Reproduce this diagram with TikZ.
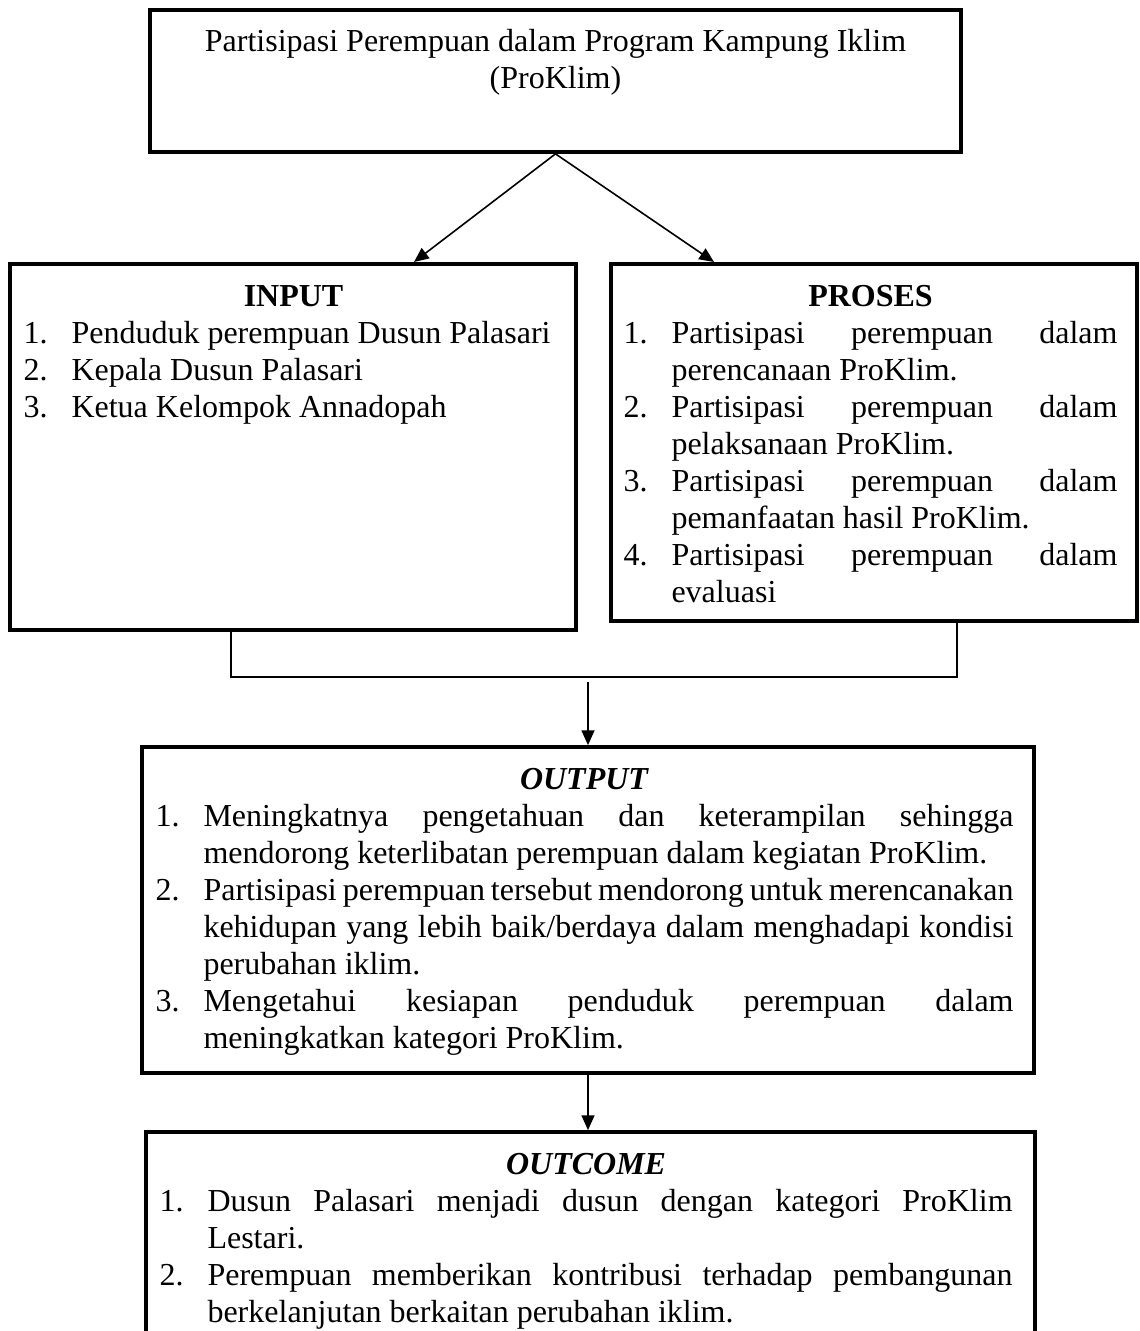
\documentclass[tikz,border=0pt]{standalone}
\usepackage{fontspec}
\setmainfont{Liberation Serif}
\usetikzlibrary{arrows.meta,fit}
\tolerance=10000 \hbadness=10000 \hyphenpenalty=10000 \exhyphenpenalty=10000
\newcommand{\nomor}[2]{\par\hangindent=18pt\hangafter=1\noindent\makebox[18pt][l]{#1}#2}
\tikzset{
  kotak/.style={draw, line width=1.4pt, inner sep=0pt},
  isi/.style={inner sep=0pt, anchor=base west},
  garis/.style={line width=0.6pt},
  panah/.style={garis, -{Triangle[length=5.5pt,width=4.8pt]}}
}
\begin{document}
\begin{tikzpicture}[x=0.375pt, y=-0.375pt, every node/.style={font=\fontsize{12pt}{13.875pt}\selectfont}]
	\useasboundingbox (0,0) rectangle (1139,1331);
	\node[kotak, fit={(150,10) (961,152)}] (judul) {};
	\node[kotak, fit={(10,264) (576,630)}] (input) {};
	\node[kotak, fit={(611,264) (1137,621)}] (proses) {};
	\node[kotak, fit={(142,747) (1034,1073)}] (output) {};
	\node[kotak, fit={(146,1132) (1035,1380)}] (outcome) {};
	\node[isi, anchor=base] (judulteks) at (555.5,52) {\parbox[t]{300pt}{\centering Partisipasi Perempuan dalam Program Kampung Iklim\\(ProKlim)}};
	\node[isi] (inputteks) at (23,306) {\parbox[t]{202.5pt}{\centerline{\textbf{INPUT}}
		\nomor{1.}{Penduduk perempuan Dusun Palasari}
		\nomor{2.}{Kepala Dusun Palasari}
		\nomor{3.}{Ketua Kelompok Annadopah}}};
	\node[isi] (prosesteks) at (623,306) {\parbox[t]{185.25pt}{\centerline{\textbf{PROSES}}
		\nomor{1.}{Partisipasi perempuan dalam \linebreak perencanaan ProKlim.}
		\nomor{2.}{Partisipasi perempuan dalam \linebreak pelaksanaan ProKlim.}
		\nomor{3.}{Partisipasi perempuan dalam \linebreak pemanfaatan hasil ProKlim.}
		\nomor{4.}{Partisipasi perempuan dalam \linebreak evaluasi}}};
	\node[isi] (outputteks) at (155,789) {\parbox[t]{321.75pt}{\centerline{\textbf{\textit{OUTPUT}}}
		\nomor{1.}{Meningkatnya pengetahuan dan keterampilan sehingga \linebreak mendorong keterlibatan perempuan dalam kegiatan ProKlim.}
		\nomor{2.}{Partisipasi perempuan tersebut mendorong untuk merencanakan \linebreak kehidupan yang lebih baik/berdaya dalam menghadapi kondisi \linebreak perubahan iklim.}
		\nomor{3.}{Mengetahui kesiapan penduduk perempuan dalam \linebreak meningkatkan kategori ProKlim.}}};
	\node[isi] (outcometeks) at (159,1174) {\parbox[t]{319.9pt}{\centerline{\textbf{\textit{OUTCOME}}}
		\nomor{1.}{Dusun Palasari menjadi dusun dengan kategori ProKlim \linebreak Lestari.}
		\nomor{2.}{Perempuan memberikan kontribusi terhadap pembangunan \linebreak berkelanjutan berkaitan perubahan iklim.}}};
	\coordinate (ujungkiri) at (414,262);
	\coordinate (ujungkanan) at (714,262);
	\coordinate (kakiinput) at (231,630);
	\coordinate (kakiproses) at (957,628);
	\coordinate (temu) at (588,677);
	\draw[panah] (judul.south) -- (ujungkiri);
	\draw[panah] (judul.south) -- (ujungkanan);
	\draw[garis] (input.south -| kakiinput) |- (temu) -| (proses.south -| kakiproses);
	\draw[panah] ([yshift=-2pt]temu) -- (output.north);
	\draw[panah] (output.south) -- (output.south |- outcome.north);
\end{tikzpicture}
\end{document}
